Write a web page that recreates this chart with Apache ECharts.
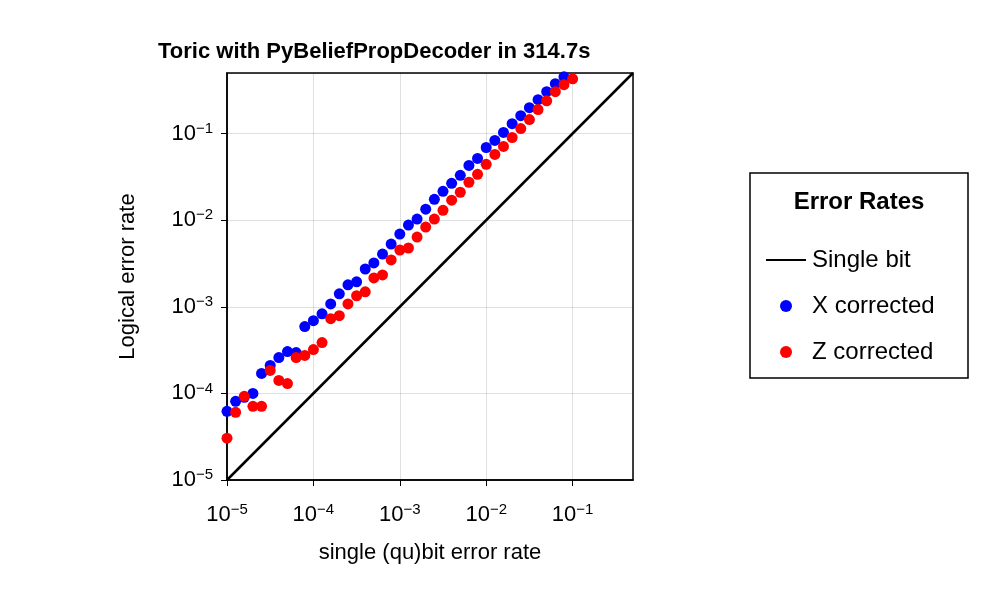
<!DOCTYPE html>
<html>
<head>
<meta charset="utf-8">
<script src="https://cdn.jsdelivr.net/npm/echarts@6/dist/echarts.min.js"></script>
<style>html,body{margin:0;padding:0;background:#fff}#chart{width:1000px;height:600px}</style>
</head>
<body>
<div id="chart"></div>
<script>
const errorRates = [
  1.0e-5, 1.259e-5, 1.585e-5, 1.995e-5, 2.512e-5, 3.162e-5, 3.981e-5, 5.012e-5, 6.310e-5, 7.943e-5,
  1.0e-4, 1.259e-4, 1.585e-4, 1.995e-4, 2.512e-4, 3.162e-4, 3.981e-4, 5.012e-4, 6.310e-4, 7.943e-4,
  1.0e-3, 1.259e-3, 1.585e-3, 1.995e-3, 2.512e-3, 3.162e-3, 3.981e-3, 5.012e-3, 6.310e-3, 7.943e-3,
  1.0e-2, 1.259e-2, 1.585e-2, 1.995e-2, 2.512e-2, 3.162e-2, 3.981e-2, 5.012e-2, 6.310e-2, 7.943e-2,
  1.0e-1
]
const xCorrected = [
  6.2e-5, 8.1e-5, 9.0e-5, 1.0e-4, 1.70e-4, 2.10e-4, 2.59e-4, 3.04e-4, 2.96e-4, 5.9e-4,
  6.9e-4, 8.3e-4, 1.08e-3, 1.41e-3, 1.79e-3, 1.94e-3, 2.73e-3, 3.21e-3, 4.06e-3, 5.30e-3,
  6.90e-3, 8.77e-3, 1.03e-2, 1.34e-2, 1.74e-2, 2.15e-2, 2.66e-2, 3.29e-2, 4.29e-2, 5.16e-2,
  6.90e-2, 8.32e-2, 0.103, 0.130, 0.161, 0.199, 0.246, 0.304, 0.376, 0.452,
  0.545
]
const zCorrected = [
  3.04e-5, 6.05e-5, 9.25e-5, 7.1e-5, 7.1e-5, 1.84e-4, 1.41e-4, 1.30e-4, 2.59e-4, 2.74e-4,
  3.21e-4, 3.86e-4, 7.28e-4, 7.89e-4, 1.08e-3, 1.34e-3, 1.49e-3, 2.15e-3, 2.33e-3, 3.47e-3,
  4.52e-3, 4.77e-3, 6.38e-3, 8.32e-3, 1.03e-2, 1.30e-2, 1.70e-2, 2.10e-2, 2.74e-2, 3.38e-2,
  4.41e-2, 5.74e-2, 7.1e-2, 9.0e-2, 0.114, 0.145, 0.189, 0.239, 0.304, 0.366,
  0.428
]
const axisMin = 1e-5
const axisMax = 0.5

const chart = echarts.init(document.getElementById('chart'))
const font = '"Liberation Sans", Arial, sans-serif'

function powLabel(v) {
    const e = Math.round(Math.log10(v))
    if (Math.abs(Math.log10(v) - e) > 0.01) return ''
    return '{b|10}{s|' + (e < 0 ? '\u2212' + (-e) : e) + '}'
}
const rich = {
    b: {fontSize: 22, fontFamily: font, color: '#000'},
    s: {fontSize: 15, fontFamily: font, color: '#000', verticalAlign: 'top', padding: [0, 0, 10, 0]}
}
function logAxis(name, gap, margin) {
    return {
        type: 'log', logBase: 10, min: axisMin, max: axisMax,
        name: name, nameLocation: 'middle', nameGap: gap,
        nameTextStyle: {fontSize: 22, fontFamily: font, color: '#000'},
        axisLine: {show: true, onZero: false, lineStyle: {color: '#000', width: 1.5}},
        axisTick: {show: true, inside: false, length: 6, lineStyle: {color: '#000'}},
        minorTick: {show: false},
        splitLine: {show: true, lineStyle: {color: '#000', opacity: 0.12, width: 1}},
        axisLabel: {formatter: powLabel, rich: rich, margin: margin, showMaxLabel: false}
    }
}

chart.setOption({
    backgroundColor: '#fff',
    animation: false,
    title: {
        text: 'Toric with PyBeliefPropDecoder in 314.7s',
        left: 153, top: 36,
        textStyle: {fontSize: 22, fontWeight: 'bold', fontFamily: font, color: '#000'}
    },
    grid: {left: 227, right: 367, top: 73, bottom: 120, show: true, borderColor: '#000', borderWidth: 1.5},
    xAxis: logAxis('single (qu)bit error rate', 62, 22),
    yAxis: logAxis('Logical error rate', 88, 14),
    graphic: [
        {type: 'rect', shape: {x: 750, y: 173, width: 218, height: 205},
         style: {fill: '#fff', stroke: '#000', lineWidth: 1.5}, z: 0},
        {type: 'text', x: 859, y: 202, style: {text: 'Error Rates', fontSize: 24, fontWeight: 'bold',
         fontFamily: font, fill: '#000', align: 'center', verticalAlign: 'middle'}, z: 1}
    ],
    legend: {
        orient: 'vertical', left: 760, top: 242, itemGap: 20, itemWidth: 42, itemHeight: 26,
        textStyle: {fontSize: 24, fontFamily: font, color: '#000', padding: [0, 0, 0, 0]},
        data: [
            {name: 'Single bit', icon: 'path://M0,12 L40,12 L40,14 L0,14 Z M0,0 L0,0 M0,26 L0,26'},
            {name: 'X corrected', icon: 'path://M15,13 a6,6 0 1,0 12,0 a6,6 0 1,0 -12,0 M0,0 L0,0 M42,26 L42,26'},
            {name: 'Z corrected', icon: 'path://M15,13 a6,6 0 1,0 12,0 a6,6 0 1,0 -12,0 M0,0 L0,0 M42,26 L42,26'}
        ]
    },
    series: [
        {name: 'Single bit', type: 'line', showSymbol: false, color: '#000',
         lineStyle: {color: '#000', width: 2.5},
         data: [[axisMin, axisMin], [axisMax, axisMax]]},
        {name: 'X corrected', type: 'scatter', symbolSize: 11, color: '#0000ff', clip: true,
         itemStyle: {opacity: 1},
         data: errorRates.map((x, i) => [x, xCorrected[i]])},
        {name: 'Z corrected', type: 'scatter', symbolSize: 11, color: '#ff0000', clip: true,
         itemStyle: {opacity: 1},
         data: errorRates.map((x, i) => [x, zCorrected[i]])}
    ]
})
</script>
</body>
</html>
